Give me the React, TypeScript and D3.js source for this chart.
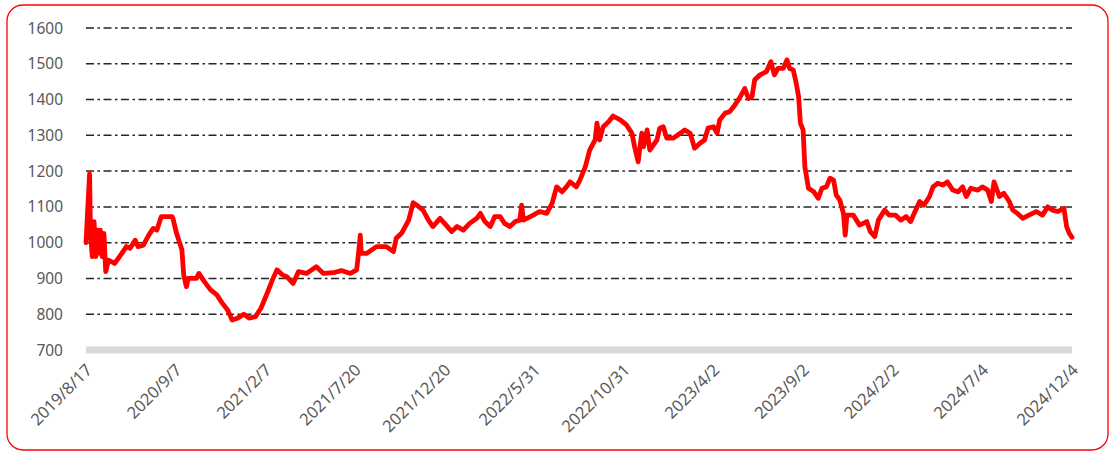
import React from "react";
import * as d3 from "d3";

const dayIndex = [0,4,5,7,9,11,13,15,16,18,20,22,25,32,40,45,49,55,58,64,70,75,79,84,96,97,101,107,109,112,114,123,126,132,139,146,152,158,163,169,176,182,189,195,202,208,213,219,224,231,237,246,257,265,276,285,295,302,304,306,307,313,324,335,343,346,352,360,365,369,376,382,387,395,400,408,414,421,428,436,440,445,451,456,462,467,473,479,484,486,488,492,499,506,514,520,525,531,536,540,547,551,557,562,568,570,573,577,583,588,596,603,609,612,616,620,622,626,629,633,637,640,644,648,655,663,668,674,679,685,690,694,700,704,707,713,718,724,730,735,739,743,746,752,759,764,768,772,778,782,785,789,792,795,797,800,802,806,812,817,821,826,830,834,837,841,845,847,849,856,863,871,875,880,884,891,896,903,909,915,920,924,930,935,941,945,950,956,961,967,973,978,982,987,995,1000,1006,1010,1013,1019,1024,1030,1034,1039,1045,1052,1060,1067,1073,1078,1084,1091,1094,1097,1100];

const price = [1000,1192,1027,961,1059,961,1035,971,1035,961,1026,919,951,942,970,989,984,1007,989,993,1021,1040,1035,1073,1073,1068,1026,980,910,877,900,900,914,891,868,854,831,812,784,789,800,789,793,816,858,896,924,910,905,886,919,914,933,914,916,922,914,924,970,1021,970,970,989,989,975,1012,1026,1063,1112,1105,1091,1063,1045,1068,1054,1031,1045,1035,1054,1068,1082,1059,1045,1073,1073,1054,1045,1059,1063,1105,1063,1068,1077,1087,1082,1110,1156,1142,1156,1170,1156,1175,1212,1259,1287,1334,1287,1324,1338,1354,1343,1329,1306,1268,1226,1306,1268,1315,1259,1273,1287,1320,1324,1292,1292,1306,1315,1306,1264,1278,1287,1320,1324,1306,1343,1362,1366,1385,1408,1431,1403,1408,1455,1469,1478,1506,1469,1487,1487,1511,1487,1483,1450,1408,1334,1315,1212,1152,1142,1124,1152,1156,1180,1175,1133,1119,1082,1021,1077,1077,1049,1059,1031,1017,1063,1091,1077,1077,1063,1073,1059,1082,1115,1105,1129,1156,1166,1161,1170,1147,1142,1156,1129,1152,1147,1156,1147,1115,1170,1129,1138,1115,1091,1082,1068,1077,1087,1077,1100,1091,1087,1096,1045,1026,1015];

const xLabels = ["2019/8/17","2020/9/7","2021/2/7","2021/7/20","2021/12/20","2022/5/31","2022/10/31","2023/4/2","2023/9/2","2024/2/2","2024/7/4","2024/12/4"];
const labelStep = 100;
const yTicks = [700,800,900,1000,1100,1200,1300,1400,1500,1600];

export default function App() {
  const W = 1112, H = 454;
  const x = d3.scaleLinear().domain([0, 1100]).range([86, 1072]);
  const y = d3.scaleLinear().domain([700, 1600]).range([350, 28]);
  const pts = dayIndex.map((d, i) => [d, price[i]] as [number, number]);
  const line = d3.line<[number, number]>().x(d => x(d[0])).y(d => y(d[1]));
  const font = "'Noto Sans', 'Open Sans', sans-serif";
  return (
    <svg width={W} height={H} style={{ position: "absolute", left: 0, top: 0, background: "#fff" }}>
      <rect x={7} y={5} width={1101} height={445} rx={16} ry={16} fill="#fff" stroke="#ff0000" strokeWidth={1.3} />
      {yTicks.filter(t => t > 700).map(t => (
        <line key={t} x1={86} x2={1072} y1={y(t)} y2={y(t)} stroke="#262626" strokeWidth={1.5} strokeDasharray="8,3.5,2.5,3.5" />
      ))}
      <line x1={86} x2={1072} y1={y(700)} y2={y(700)} stroke="#d9d9d9" strokeWidth={7} />
      {yTicks.map(t => (
        <text key={t} x={63} y={y(t)} dy="0.36em" textAnchor="end" fontFamily={font} fontSize={15.5} fill="#595959">{t}</text>
      ))}
      {xLabels.map((l, i) => (
        <text key={l} transform={`translate(${x(i * labelStep) + 3},${367}) rotate(-45)`} textAnchor="end" dy="0.35em" fontFamily={font} fontSize={16.5} fill="#595959">{l}</text>
      ))}
      <path d={line(pts) || ""} fill="none" stroke="#ff0000" strokeWidth={4.8} strokeLinejoin="round" strokeLinecap="round" />
    </svg>
  );
}
